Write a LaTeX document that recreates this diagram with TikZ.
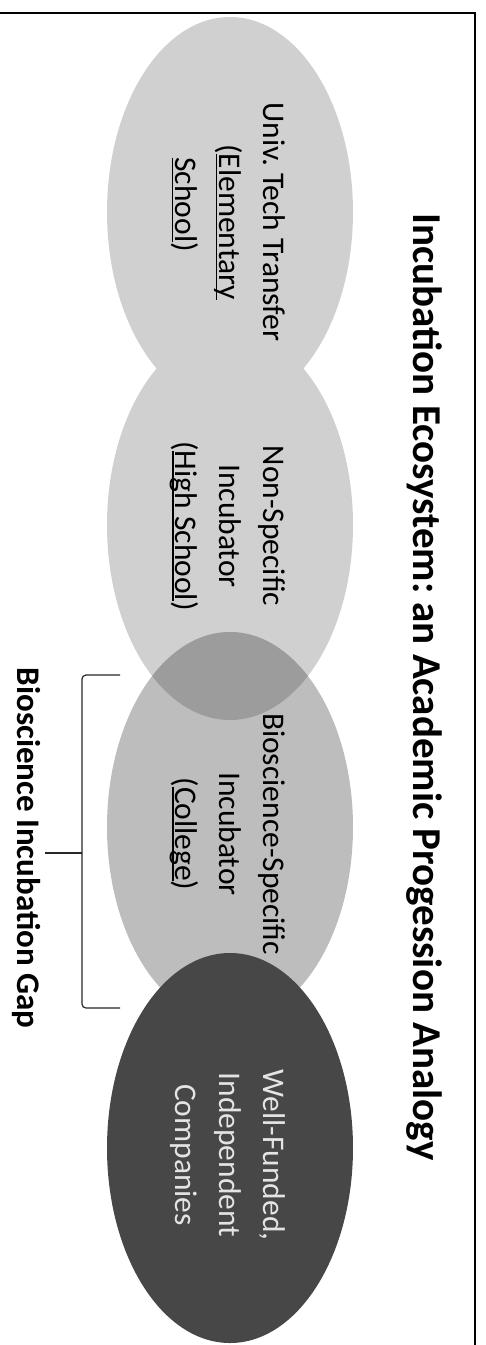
\documentclass[tikz,border=0pt]{standalone}
\usepackage{fontspec}
\setmainfont{Carlito}
\usetikzlibrary{shapes.geometric}
\definecolor{eoneC}{HTML}{D0D0D0}
\definecolor{etwoC}{HTML}{D0D0D0}
\definecolor{ethreeC}{HTML}{BDBDBD}
\definecolor{overC}{HTML}{9C9C9C}
\definecolor{efourC}{HTML}{474747}
\definecolor{lightTxt}{HTML}{E4E4E4}
\newcommand{\myul}[1]{\setbox0\hbox{#1}\rlap{\rule[-3.5pt]{\wd0}{1.6pt}}\box0}
\frenchspacing
\tikzset{
  bubble/.style={ellipse, draw=none, inner sep=0pt, minimum width=246pt, minimum height=390pt},
  bubtext/.style={rotate=-90, align=center, inner sep=0pt,
     font=\fontsize{31.5pt}{44pt}\selectfont},
  titletext/.style={rotate=-90, inner sep=0pt, font=\fontsize{41pt}{48pt}\selectfont\bfseries},
  gaptext/.style={rotate=-90, inner sep=0pt, font=\fontsize{33pt}{40pt}\selectfont\bfseries},
  bracket/.style={line width=1.2pt, black!85, rounded corners=4pt},
  frame/.style={line width=2pt, black}
}
\begin{document}
\begin{tikzpicture}[x=1pt,y=-1pt]
\useasboundingbox (0,0) rectangle (485,1345);
% frame (top and right edges)
\draw[frame] (0,13) -- (475,13) -- (475,1345);
% bubbles
\node[bubble, fill=eoneC] (e1) at (230,212) {};
\node[bubble, fill=etwoC] (e2) at (230,525) {};
\node[bubble, fill=ethreeC] (e3) at (230,827) {};
\begin{scope}
  \clip (230,525) ellipse [x radius=123pt, y radius=195pt];
  \fill[overC] (230,827) ellipse [x radius=123pt, y radius=195pt];
\end{scope}
\node[bubble, fill=efourC] (e4) at (230,1148) {};
% bubble texts
\node[bubtext] (t1) at (228,222) {Univ. Tech Transfer\\(\myul{Elementary}\\\myul{School})\hspace*{1.1em}};
\node[bubtext] (t2) at (228,526) {Non-Specific\\Incubator\\(\myul{High School})};
\node[bubtext] (t3) at (228,834) {Bioscience-Specific\\Incubator\\(\myul{College})};
\node[bubtext, text=lightTxt] (t4) at (228,1155) {Well-Funded,\\Independent\\Companies};
% title
\node[titletext] (title) at (424,687) {Incubation Ecosystem: an Academic Progession Analogy};
% gap label and bracket
\node[gaptext] (gap) at (27,848) {Bioscience Incubation Gap};
\coordinate (btop) at (120,675);
\coordinate (bbot) at (120,1008);
\coordinate (bmid) at (82,853);
\coordinate (btip) at (45,853);
\draw[bracket] (btop) -- (82,675) -- (82,1008) -- (bbot);
\draw[bracket] (bmid) -- (btip);
\end{tikzpicture}
\end{document}
